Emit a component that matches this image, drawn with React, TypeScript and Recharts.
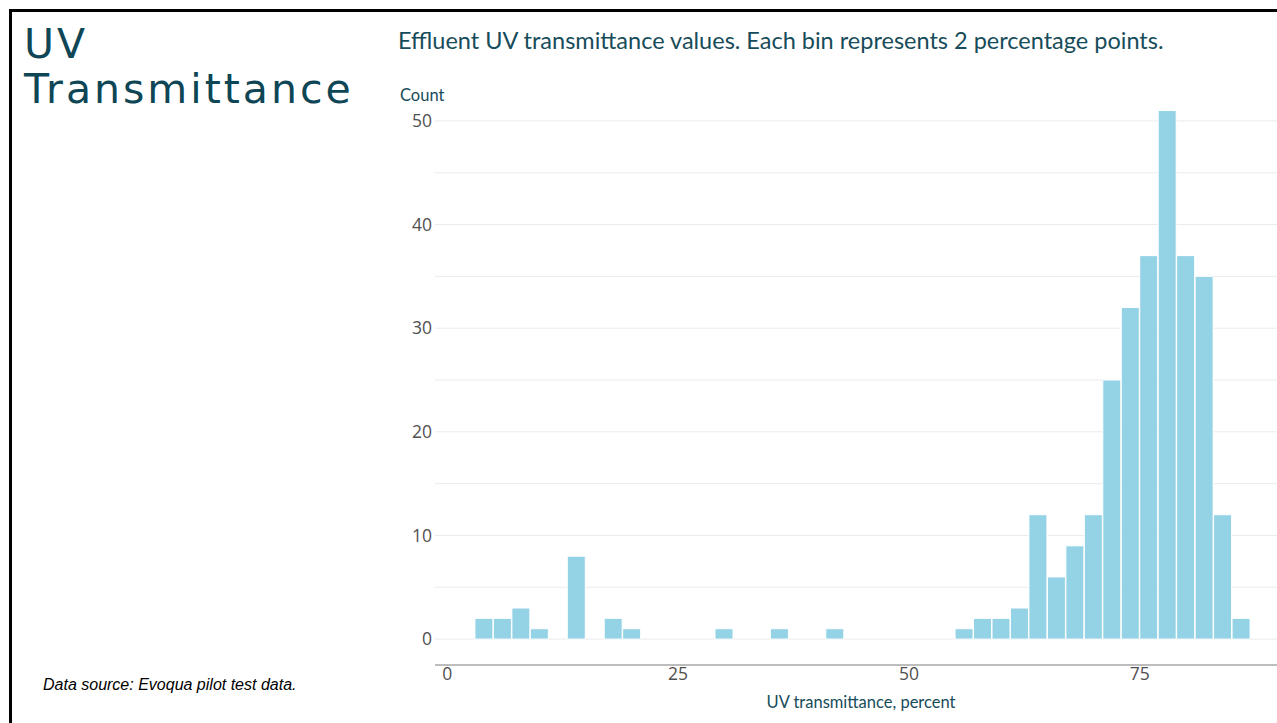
import React from 'react';
import { BarChart, Bar, XAxis, YAxis, CartesianGrid } from 'recharts';

// bin centres (each bin spans 2 percentage points, edges on odd numbers)
const binMids = [
  0, 2, 4, 6, 8, 10, 12, 14, 16, 18, 20, 22, 24, 26, 28, 30, 32, 34, 36, 38, 40, 42,
  44, 46, 48, 50, 52, 54, 56, 58, 60, 62, 64, 66, 68, 70, 72, 74, 76, 78, 80, 82, 84, 86, 88,
];
const counts = [
  0, 0, 2, 2, 3, 1, 0, 8, 0, 2, 1, 0, 0, 0, 0, 1, 0, 0, 1, 0, 0, 1,
  0, 0, 0, 0, 0, 0, 1, 2, 2, 3, 12, 6, 9, 12, 25, 32, 37, 51, 37, 35, 12, 2, 0,
];
const xTicks = [0, 25, 50, 75];
const yTicks = [0, 5, 10, 15, 20, 25, 30, 35, 40, 45, 50];
const yDomain: [number, number] = [-2.5, 52.5];

const data = binMids.map((mid, i) => ({ mid, count: counts[i] }));

const teal = '#174c5a';
const tickStyle = { fill: '#505050', fontSize: 17.5, fontFamily: '"Open Sans", sans-serif' };

// grid only at the y ticks (not at the plot edges)
const gridRows = ({ offset }: any) =>
  yTicks.map((t) => offset.top + (offset.height * (yDomain[1] - t)) / (yDomain[1] - yDomain[0]));

export default function App() {
  return (
    <div style={{ position: 'absolute', left: 0, top: 0, width: 1277, height: 723, background: '#fff', overflow: 'hidden' }}>
      <div
        style={{
          position: 'absolute', left: 9, top: 9, width: 1277, height: 723,
          borderTop: '3px solid #000', borderLeft: '3px solid #000',
        }}
      />
      <div
        style={{
          position: 'absolute', left: 24, top: 22, color: '#0f4656',
          fontFamily: '"DejaVu Sans", sans-serif', fontSize: 41, lineHeight: '45px', letterSpacing: 3,
        }}
      >
        UV<br />Transmittance
      </div>
      <div
        style={{
          position: 'absolute', left: 398, top: 26, color: teal,
          fontFamily: 'Lato, sans-serif', fontSize: 23.5, whiteSpace: 'nowrap',
        }}
      >
        Effluent UV transmittance values. Each bin represents 2 percentage points.
      </div>
      <div
        style={{
          position: 'absolute', left: 400, top: 85, color: teal,
          fontFamily: 'Lato, sans-serif', fontSize: 16.5,
        }}
      >
        Count
      </div>
      <div
        style={{
          position: 'absolute', left: 0, width: 1722, top: 692, textAlign: 'center', color: teal,
          fontFamily: 'Lato, sans-serif', fontSize: 16.5,
        }}
      >
        UV transmittance, percent
      </div>
      <div
        style={{
          position: 'absolute', left: 43, top: 676, color: '#000',
          fontFamily: '"Liberation Sans", Arial, sans-serif', fontStyle: 'italic', fontSize: 16,
        }}
      >
        Data source: Evoqua pilot test data.
      </div>
      <div style={{ position: 'absolute', left: 0, top: 0 }}>
        <BarChart
          width={1277}
          height={723}
          data={data}
          barCategoryGap={0}
          margin={{ top: 95, right: 0, bottom: 28, left: 375 }}
        >
          <CartesianGrid
            xAxisId="num"
            vertical={false}
            stroke="#ebebeb"
            strokeWidth={1}
            horizontalCoordinatesGenerator={gridRows}
          />
          <XAxis xAxisId="bins" dataKey="mid" hide height={0} padding={{ left: 3, right: 8 }} />
          <XAxis
            xAxisId="num"
            type="number"
            dataKey="mid"
            domain={[-1, 89]}
            allowDataOverflow
            ticks={xTicks}
            padding={{ left: 3, right: 8 }}
            height={30}
            tickSize={0}
            tickMargin={3}
            axisLine={{ stroke: '#bdbdbd', strokeWidth: 2 }}
            tick={tickStyle}
          />
          <YAxis
            type="number"
            domain={yDomain}
            allowDataOverflow
            ticks={yTicks}
            width={60}
            tickSize={0}
            tickMargin={3}
            axisLine={false}
            tickFormatter={(v: number) => (v % 10 === 0 ? String(v) : '')}
            tick={tickStyle}
          />
          <Bar
            xAxisId="bins"
            dataKey="count"
            fill="#94d2e6"
            stroke="#ffffff"
            strokeWidth={1}
            isAnimationActive={false}
          />
        </BarChart>
      </div>
    </div>
  );
}
